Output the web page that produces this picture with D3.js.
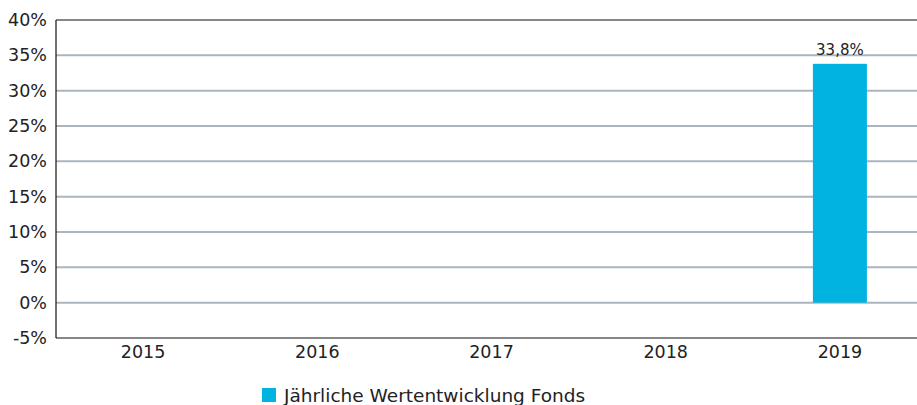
<!DOCTYPE html>
<html>
<head>
<meta charset="utf-8">
<script src="https://cdn.jsdelivr.net/npm/d3@7"></script>
<style>
  body { margin: 0; background: #fff; }
  svg { display: block; font-family: "DejaVu Sans", sans-serif; }
</style>
</head>
<body>
<svg id="chart" width="917" height="405"></svg>
<script>
const years = ["2015", "2016", "2017", "2018", "2019"];
const fondsValues = [null, null, null, null, 33.8];
const yTicks = [-5, 0, 5, 10, 15, 20, 25, 30, 35, 40];
const seriesName = "Jährliche Wertentwicklung Fonds";

const svg = d3.select("#chart");
const margin = {top: 20, left: 56};
const plotW = 871, plotH = 318;
const g = svg.append("g").attr("transform", `translate(${margin.left},${margin.top})`);

const x = d3.scaleBand().domain(years).range([0, plotW]).paddingInner(0.69).paddingOuter(0.345);
const y = d3.scaleLinear().domain([-5, 40]).range([plotH, 0]);

// gridlines
g.selectAll("line.grid")
    .data(yTicks.filter(d => d > -5 && d < 40))
    .join("line")
    .attr("class", "grid")
    .attr("x1", 0).attr("x2", plotW)
    .attr("y1", d => y(d)).attr("y2", d => y(d))
    .attr("stroke", "#aab5c0").attr("stroke-width", 2);

// frame: top, left, bottom
g.append("line").attr("x1", 0).attr("x2", plotW).attr("y1", y(40)).attr("y2", y(40)).attr("stroke", "#111").attr("stroke-width", 1.2);
g.append("line").attr("x1", 0).attr("x2", plotW).attr("y1", y(-5)).attr("y2", y(-5)).attr("stroke", "#111").attr("stroke-width", 1.2);
g.append("line").attr("x1", 0).attr("x2", 0).attr("y1", y(40)).attr("y2", y(-5)).attr("stroke", "#111").attr("stroke-width", 1.2);

// y labels
const yAxis = g.append("g").call(d3.axisLeft(y).tickValues(yTicks).tickSize(0).tickPadding(9).tickFormat(d => d + "%"));
yAxis.select(".domain").remove();
yAxis.selectAll("text").attr("font-size", 17.5).attr("fill", "#222").attr("font-family", "DejaVu Sans, sans-serif");

// x labels
const xAxis = g.append("g").attr("transform", `translate(0,${plotH})`)
    .call(d3.axisBottom(x.copy().paddingInner(0).paddingOuter(0)).tickSize(0).tickPadding(8));
xAxis.select(".domain").remove();
xAxis.selectAll("text").attr("font-size", 17.5).attr("fill", "#222").attr("font-family", "DejaVu Sans, sans-serif");

// bars
const data = years.map((yr, i) => ({year: yr, value: fondsValues[i]})).filter(d => d.value != null);
g.selectAll("rect.bar")
    .data(data)
    .join("rect")
    .attr("class", "bar")
    .attr("x", d => x(d.year))
    .attr("width", x.bandwidth())
    .attr("y", d => y(Math.max(0, d.value)))
    .attr("height", d => Math.abs(y(d.value) - y(0)))
    .attr("fill", "#00b3e0");

g.selectAll("text.val")
    .data(data)
    .join("text")
    .attr("class", "val")
    .attr("x", d => x(d.year) + x.bandwidth() / 2)
    .attr("y", d => y(d.value) - 9)
    .attr("text-anchor", "middle")
    .attr("font-size", 15)
    .attr("fill", "#222")
    .text(d => d.value.toFixed(1).replace(".", ",") + "%");

// legend
const legend = svg.append("g").attr("transform", "translate(262,388)");
legend.append("rect").attr("width", 14).attr("height", 14).attr("fill", "#00b3e0");
legend.append("text").attr("x", 22).attr("y", 14).attr("font-size", 18.5).attr("fill", "#222").text(seriesName);
</script>
</body>
</html>
